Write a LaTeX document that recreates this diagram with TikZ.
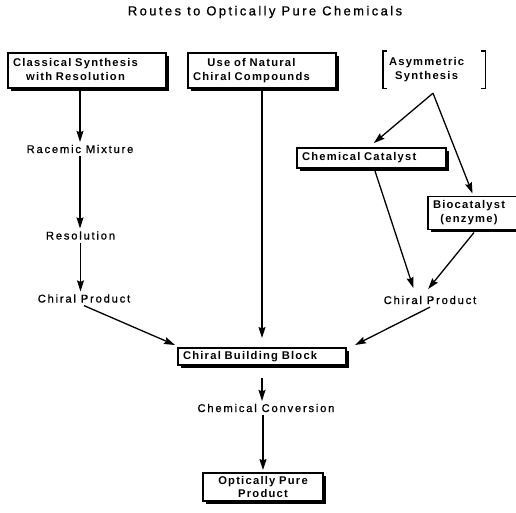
\documentclass[tikz,border=0pt]{standalone}
\usepackage{fontspec}
\setmainfont{Liberation Sans}
\newfontfamily\titlefont[LetterSpace=18.5,FakeBold=0.8]{Liberation Sans}
\newfontfamily\plainfont[LetterSpace=16,FakeBold=0.8]{Liberation Sans}
\newfontfamily\boxfont[LetterSpace=11]{Liberation Sans}
\usetikzlibrary{arrows.meta,shadows,calc}
\begin{document}
\begin{tikzpicture}[x=1pt,y=-1pt,
  titletext/.style={font=\titlefont\fontsize{13}{15}\selectfont, inner sep=0pt},
  plain/.style={font=\plainfont\fontsize{11.2}{13}\selectfont, inner sep=0pt, outer sep=3pt},
  box/.style={draw, line width=1.1pt, fill=white, anchor=west, align=left,
    font=\boxfont\bfseries\fontsize{11.2}{14}\selectfont, inner xsep=5pt, inner ysep=0pt,
    outer sep=3pt,
    drop shadow={opacity=1, fill=black, shadow xshift=2.5pt, shadow yshift=-2.5pt}},
  asymbox/.style={align=left, font=\boxfont\bfseries\fontsize{11.2}{14}\selectfont,
    inner xsep=6pt, inner ysep=0pt, text width=90pt, minimum height=37pt},
  bracket/.style={line width=1.4pt},
  arr/.style={line width=1.3pt, -{Stealth[length=11pt,width=7pt,inset=1.5pt]}}
]
\useasboundingbox (0,0) rectangle (516,512);

\node[titletext] (title) at (265,12) {Routes to Optically Pure Chemicals};

\node[box, text width=148pt, minimum height=35pt] (box1) at (5,70.5)
  {\begin{tabular}{@{}c@{}}Classical Synthesis\\with Resolution\end{tabular}};
\node[box, text width=138pt, minimum height=35pt] (box2) at (185,70.5)
  {\begin{tabular}{@{}c@{}}Use of Natural\\Chiral Compounds\end{tabular}};
\node[asymbox] (asym) at (434,69.5)
  {\begin{tabular}{@{}c@{}}Asymmetric\\Synthesis\end{tabular}};
\draw[bracket] ($(asym.north west)+(4,0)$) -- (asym.north west) -- (asym.south west) -- ++(4,0);
\draw[bracket] ($(asym.north east)+(-4,0)$) -- (asym.north east) -- (asym.south east) -- ++(-4,0);
\coordinate (apex) at ($(asym.south)+(-1,5)$);

\node[plain] (racemic) at (80,149) {Racemic Mixture};
\node[plain] (resolution) at (80.5,235.5) {Resolution};
\node[plain] (chiralL) at (84,298.5) {Chiral Product};

\node[box, text width=139pt, minimum height=20pt] (chemcat) at (294,158)
  {Chemical Catalyst};
\node[box, text width=79pt, minimum height=33pt] (bio) at (425,213)
  {\begin{tabular}{@{}c@{}}Biocatalyst\\(enzyme)\end{tabular}};
\node[plain] (chiralR) at (430,300) {Chiral Product};

\node[box, text width=158pt, minimum height=17pt] (cbb) at (175,356.5)
  {Chiral Building Block};
\node[plain] (chemconv) at (266,408) {Chemical Conversion};
\node[box, text width=110pt, minimum height=28pt, align=center] (opt) at (200,487)
  {Optically Pure\\[-1pt]Product};

\draw[arr] (box1.south -| racemic) -- (racemic);
\draw[arr] (racemic) -- (racemic |- resolution.north);
\draw[arr] (resolution.south) -- (resolution.south |- chiralL.north);
\draw[arr, shorten >=7pt] (box2.south) -- (box2.south |- cbb.north);
\draw[arr, shorten >=3pt] (apex) -- (chemcat.north);
\draw[arr] (apex) -- (bio.north);
\draw[arr, shorten >=5pt] ([xshift=3.5pt]chemcat.south) -- ([xshift=-15pt]chiralR.north);
\draw[arr, shorten >=5pt] ([xshift=1.5pt]bio.south) -- ([xshift=-5pt]chiralR.north);
\draw[arr] (chiralL.south) -- (cbb.north west);
\draw[arr] (chiralR.south) -- ([xshift=6pt]cbb.north east);
\draw[arr, shorten <=10pt] (cbb.south) -- (cbb.south |- chemconv.north);
\draw[arr] (chemconv.south -| opt) -- (opt.north);
\end{tikzpicture}
\end{document}
